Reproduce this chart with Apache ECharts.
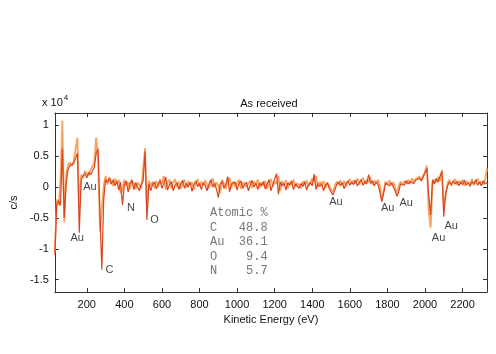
<!DOCTYPE html>
<html>
<head>
<meta charset="utf-8">
<script src="https://cdn.jsdelivr.net/npm/echarts@6/dist/echarts.min.js"></script>
<style>
  html, body { margin: 0; padding: 0; background: #fff; }
  #chart { width: 496px; height: 354px; }
</style>
</head>
<body>
<div id="chart"></div>
<script>
// Auger survey spectrum, "As received" - values in units of 1e4 c/s
const energy = [
  30, 40, 50, 60, 70, 80, 90, 100, 110, 120, 130, 140, 150, 160, 170, 180, 190, 200, 210, 220,
  230, 240, 250, 260, 270, 280, 290, 300, 310, 320, 330, 340, 350, 360, 370, 380, 390, 400, 410, 420,
  430, 440, 450, 460, 470, 480, 490, 500, 510, 520, 530, 540, 550, 560, 570, 580, 590, 600, 610, 620,
  630, 640, 650, 660, 670, 680, 690, 700, 710, 720, 730, 740, 750, 760, 770, 780, 790, 800, 810, 820,
  830, 840, 850, 860, 870, 880, 890, 900, 910, 920, 930, 940, 950, 960, 970, 980, 990, 1000, 1010, 1020,
  1030, 1040, 1050, 1060, 1070, 1080, 1090, 1100, 1110, 1120, 1130, 1140, 1150, 1160, 1170, 1180, 1190, 1200, 1210, 1220,
  1230, 1240, 1250, 1260, 1270, 1280, 1290, 1300, 1310, 1320, 1330, 1340, 1350, 1360, 1370, 1380, 1390, 1400, 1410, 1420,
  1430, 1440, 1450, 1460, 1470, 1480, 1490, 1500, 1510, 1520, 1530, 1540, 1550, 1560, 1570, 1580, 1590, 1600, 1610, 1620,
  1630, 1640, 1650, 1660, 1670, 1680, 1690, 1700, 1710, 1720, 1730, 1740, 1750, 1760, 1770, 1780, 1790, 1800, 1810, 1820,
  1830, 1840, 1850, 1860, 1870, 1880, 1890, 1900, 1910, 1920, 1930, 1940, 1950, 1960, 1970, 1980, 1990, 2000, 2010, 2020,
  2030, 2040, 2050, 2060, 2070, 2080, 2090, 2100, 2110, 2120, 2130, 2140, 2150, 2160, 2170, 2180, 2190, 2200, 2210, 2220,
  2230, 2240, 2250, 2260, 2270, 2280, 2290, 2300, 2310, 2320, 2330
];

// light orange trace
const countsLight = [
  -1.05, -0.20, -0.30, 0.10, 1.08, -0.57, 0.20, 0.36, 0.40, 0.34, 0.42, 0.45, 0.80, -0.35, 0.20, 0.15, 0.26, 0.22, 0.18, 0.28,
  0.30, 0.40, 0.80, 0.45, -0.72, -0.70, 0.02, 0.18, 0.04, 0.16, 0.10, 0.02, 0.14, 0.05, 0.12, -0.10, -0.05, 0.12, 0.02, 0.08,
  -0.03, 0.10, 0.06, -0.04, 0.08, 0.03, -0.02, 0.30, 0.63, -0.35, 0.10, 0.02, 0.09, -0.02, 0.10, 0.00, 0.13, 0.05, 0.18, -0.04,
  0.08, 0.12, -0.02, 0.07, 0.13, 0.00, 0.09, -0.03, 0.06, 0.12, -0.01, 0.10, 0.03, 0.08, -0.04, 0.06, 0.13, 0.00, 0.09, 0.02,
  0.11, 0.04, -0.02, 0.07, 0.14, -0.01, 0.08, 0.03, -0.10, 0.12, 0.05, -0.03, 0.10, 0.15, -0.02, 0.09, 0.00, 0.07, 0.12, -0.03,
  0.08, 0.11, 0.00, 0.06, 0.10, -0.02, 0.09, 0.04, 0.12, -0.01, 0.07, 0.02, 0.10, -0.03, 0.06, 0.13, 0.01, 0.09, 0.05, 0.18,
  -0.06, 0.10, 0.03, 0.11, -0.02, 0.08, 0.04, 0.12, 0.00, 0.07, 0.10, -0.02, 0.09, 0.03, 0.11, 0.01, 0.06, 0.14, 0.08, 0.18,
  0.00, 0.09, 0.04, 0.10, -0.02, 0.07, 0.03, -0.04, -0.08, 0.02, 0.09, 0.04, 0.11, 0.03, 0.10, 0.01, 0.08, 0.13, 0.05, 0.11,
  0.06, 0.14, 0.04, 0.10, 0.15, 0.05, 0.12, 0.08, 0.16, 0.04, 0.11, 0.06, 0.12, 0.02, -0.20, -0.05, 0.09, 0.04, 0.11, 0.03,
  0.08, 0.00, -0.10, 0.02, 0.09, 0.04, 0.10, 0.06, 0.12, 0.05, 0.14, 0.09, 0.13, 0.10, 0.17, 0.12, 0.18, 0.25, 0.35, -0.40,
  -0.66, 0.05, 0.12, 0.08, 0.16, 0.10, 0.28, -0.30, -0.15, 0.06, 0.12, 0.02, 0.09, 0.13, 0.04, 0.10, 0.06, 0.12, 0.02, 0.09,
  0.11, 0.05, 0.13, 0.03, 0.08, 0.14, 0.05, 0.10, 0.04, 0.12, 0.30
];

// dark red trace
const countsDark = [
  -1.10, -0.28, -0.22, -0.30, 0.62, -0.50, 0.05, 0.28, 0.35, 0.32, 0.38, 0.36, 0.55, -0.74, 0.12, 0.18, 0.22, 0.15, 0.24, 0.20,
  0.26, 0.32, 0.55, 0.62, -0.40, -1.34, -0.20, 0.12, 0.08, 0.14, 0.05, 0.12, 0.02, 0.10, -0.05, 0.08, -0.29, 0.04, 0.10, -0.08,
  0.06, 0.12, -0.04, 0.07, 0.00, -0.06, 0.05, 0.10, 0.58, -0.53, 0.05, -0.06, 0.04, 0.08, -0.03, 0.05, 0.10, -0.02, 0.06, 0.16,
  -0.05, 0.04, 0.09, -0.06, 0.03, 0.07, -0.04, 0.05, 0.11, -0.02, 0.06, 0.00, 0.08, -0.07, 0.04, 0.10, 0.01, 0.06, -0.04, 0.07,
  0.03, -0.06, 0.05, 0.12, 0.00, 0.06, -0.03, -0.17, 0.05, 0.09, -0.02, 0.04, 0.17, -0.08, 0.05, 0.02, 0.08, -0.05, 0.06, 0.10,
  -0.02, 0.04, 0.08, -0.06, 0.03, 0.11, 0.00, 0.06, -0.04, 0.07, 0.02, 0.09, -0.03, 0.05, 0.12, -0.06, 0.04, 0.06, 0.22, -0.12,
  0.08, 0.02, 0.06, -0.05, 0.07, 0.03, 0.10, -0.04, 0.05, 0.08, -0.02, 0.06, 0.01, 0.09, -0.05, 0.04, 0.08, 0.02, 0.21, -0.04,
  0.06, 0.01, 0.05, -0.06, 0.03, 0.07, -0.02, -0.08, -0.13, -0.05, 0.04, 0.08, 0.02, 0.07, -0.03, 0.06, 0.10, 0.03, 0.08, 0.04,
  0.11, 0.02, 0.07, 0.12, 0.03, 0.09, 0.05, 0.20, 0.06, 0.10, 0.02, 0.08, 0.04, -0.08, -0.24, -0.10, 0.06, 0.09, 0.02, 0.07,
  0.04, -0.05, -0.15, -0.08, 0.05, 0.08, 0.03, 0.10, 0.05, 0.09, 0.12, 0.06, 0.11, 0.08, 0.14, 0.10, 0.16, 0.18, 0.30, -0.15,
  -0.45, 0.12, 0.05, 0.14, 0.08, 0.18, 0.25, -0.48, -0.10, 0.02, 0.08, 0.04, 0.10, 0.05, 0.09, 0.02, 0.08, 0.04, 0.11, 0.03,
  0.07, 0.01, 0.09, 0.05, 0.12, 0.03, 0.08, 0.02, 0.10, 0.05, 0.08
];

// peak annotations: [energy, value, text]
const peakLabels = [
  [149, -0.82, 'Au'], [217, 0.0, 'Au'], [321, -1.34, 'C'], [435, -0.34, 'N'], [560, -0.53, 'O'],
  [1526, -0.24, 'Au'], [1801, -0.34, 'Au'], [1900, -0.26, 'Au'], [2072, -0.82, 'Au'], [2139, -0.63, 'Au']
];

const xTicks = [200, 400, 600, 800, 1000, 1200, 1400, 1600, 1800, 2000, 2200];
const yTicks = [-1.5, -1, -0.5, 0, 0.5, 1];

const tableLines = ['Atomic %', 'C   48.8', 'Au  36.1', 'O    9.4', 'N    5.7'];

const font = 'Liberation Sans, Arial, sans-serif';
const axisColor = '#333';

function pairs(ys) {
  return energy.map((e, i) => [e, ys[i]]);
}

const chart = echarts.init(document.getElementById('chart'));

const baseX = {
  type: 'value', min: 30, max: 2330,
  axisLine: { show: true, onZero: false, lineStyle: { color: axisColor, width: 1 } },
  axisTick: { show: true, inside: true, length: 4, customValues: xTicks, lineStyle: { color: axisColor } },
  splitLine: { show: false }
};
const baseY = {
  type: 'value', min: -1.7, max: 1.2,
  axisLine: { show: true, onZero: false, lineStyle: { color: axisColor, width: 1 } },
  axisTick: { show: true, inside: true, length: 4, customValues: yTicks, lineStyle: { color: axisColor } },
  splitLine: { show: false }
};

const option = {
  animation: false,
  backgroundColor: '#fff',
  title: {
    text: 'As received', left: 264, top: 93, textAlign: 'center',
    textStyle: { fontFamily: font, fontSize: 11, fontWeight: 'normal', color: '#111' }
  },
  grid: { left: 44, right: 9, top: 113, bottom: 62 },
  xAxis: [
    Object.assign({}, baseX, {
      position: 'bottom',
      name: 'Kinetic Energy (eV)', nameLocation: 'middle', nameGap: 22,
      nameTextStyle: { fontFamily: font, fontSize: 11, color: '#111' },
      axisLabel: {
        show: true, customValues: xTicks, margin: 7, fontFamily: font, fontSize: 11, color: '#111',
        formatter: v => String(v)
      }
    }),
    Object.assign({}, baseX, { position: 'top', axisLabel: { show: false } })
  ],
  yAxis: [
    Object.assign({}, baseY, {
      position: 'left',
      name: 'c/s', nameLocation: 'middle', nameGap: 20, nameRotate: 90,
      nameTextStyle: { fontFamily: font, fontSize: 11, color: '#111' },
      axisLabel: {
        show: true, customValues: yTicks, margin: 6, fontFamily: font, fontSize: 11, color: '#111',
        formatter: v => String(v)
      }
    }),
    Object.assign({}, baseY, { position: 'right', axisLabel: { show: false } })
  ],
  graphic: [
    {
      type: 'text', left: 42, top: 94,
      style: {
        text: '{a|x 10}{b|4}', fill: '#111',
        rich: {
          a: { fontFamily: font, fontSize: 11, verticalAlign: 'bottom' },
          b: { fontFamily: font, fontSize: 8, verticalAlign: 'top', padding: [0, 0, 6, 1] }
        }
      }
    },
    {
      type: 'text', left: 210, top: 206,
      style: {
        text: tableLines.join('\n'), fill: '#777', lineHeight: 14.5,
        fontFamily: 'Liberation Mono, Courier New, monospace', fontSize: 12
      }
    }
  ],
  series: [
    {
      type: 'line', data: pairs(countsLight), showSymbol: false, symbol: 'none',
      lineStyle: { color: '#f8a35e', width: 1.8 }, z: 2
    },
    {
      type: 'line', data: pairs(countsDark), showSymbol: false, symbol: 'none',
      lineStyle: { color: '#d9431f', width: 1.2 }, z: 3
    },
    {
      type: 'scatter', data: peakLabels, symbolSize: 0, z: 5,
      label: {
        show: true, position: 'inside', formatter: p => p.data[2],
        fontFamily: font, fontSize: 11, color: '#111'
      }
    }
  ]
};

chart.setOption(option);
</script>
</body>
</html>
